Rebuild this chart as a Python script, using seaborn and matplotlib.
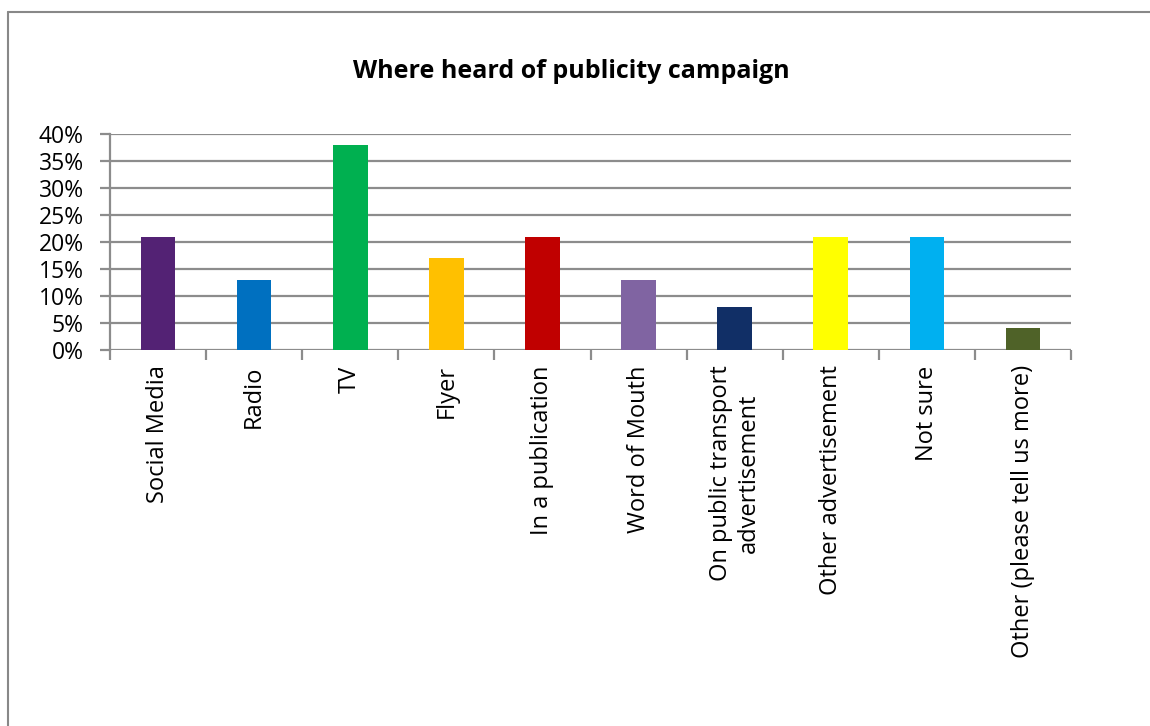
import matplotlib
matplotlib.use("Agg")
import matplotlib.pyplot as plt
from matplotlib.lines import Line2D
import seaborn as sns
import pandas as pd

categories = [
    "Social Media", "Radio", "TV", "Flyer", "In a publication",
    "Word of Mouth", "On public transport\nadvertisement",
    "Other advertisement", "Not sure", "Other (please tell us more)",
]
shares = [21, 13, 38, 17, 21, 13, 8, 21, 21, 4]
bar_colors = [
    "#532274", "#0070C0", "#00B050", "#FFC000", "#C00000",
    "#8064A2", "#112F66", "#FFFF00", "#00B0F0", "#4F6228",
]
y_ticks = [0, 5, 10, 15, 20, 25, 30, 35, 40]
y_tick_labels = [f"{v}%" for v in y_ticks]
title = "Where heard of publicity campaign"

sns.set_theme(style="white")
plt.rcParams["font.family"] = ["Open Sans", "DejaVu Sans"]

W, H = 1150, 726
fig = plt.figure(figsize=(W / 100, H / 100), dpi=100)
ax = fig.add_axes([110 / W, 1 - 350 / H, (1071 - 110) / W, (350 - 134) / H])

df = pd.DataFrame({"category": categories, "share": shares})
sns.barplot(data=df, x="category", y="share", hue="category",
            palette=bar_colors, legend=False, width=0.36,
            saturation=1, linewidth=0, ax=ax, zorder=3)

grid_color = "#8C8C8C"
ax.set_ylim(0, 40)
ax.set_xlim(-0.5, len(categories) - 0.5)
ax.set_yticks(y_ticks)
ax.set_yticklabels(y_tick_labels, fontsize=16.5)
for v in y_ticks:
    ax.axhline(v, color=grid_color, lw=1.6, zorder=1)

# category boundaries get tick marks, centres get the labels
ax.set_xticks([i - 0.5 for i in range(len(categories) + 1)])
ax.set_xticklabels([])
ax.set_xticks(range(len(categories)), minor=True)
ax.set_xticklabels(categories, minor=True, rotation=90, fontsize=17,
                   ha="center", va="top", multialignment="center")
ax.tick_params(axis="x", which="major", length=7, width=1.6,
               color=grid_color, direction="out", bottom=True)
ax.tick_params(axis="x", which="minor", length=0, pad=11, labelcolor="black")
ax.tick_params(axis="y", length=7, width=1.6, color=grid_color,
               direction="out", left=True, pad=12, labelcolor="black")

for side in ["top", "right", "bottom"]:
    ax.spines[side].set_visible(False)
ax.spines["left"].set_color(grid_color)
ax.spines["left"].set_linewidth(1.6)
ax.set_xlabel("")
ax.set_ylabel("")

fig.text(571 / W, 1 - 72 / H, title, ha="center", va="center",
         fontsize=18, fontweight="bold", color="black")

# outer chart frame
frame_kw = dict(color="#888888", lw=1.5, transform=fig.transFigure)
fig.add_artist(Line2D([8 / W, 8 / W], [0, 1 - 12 / H], **frame_kw))
fig.add_artist(Line2D([8 / W, 1], [1 - 12 / H, 1 - 12 / H], **frame_kw))

fig.savefig("out.png", dpi=100, facecolor="white")
